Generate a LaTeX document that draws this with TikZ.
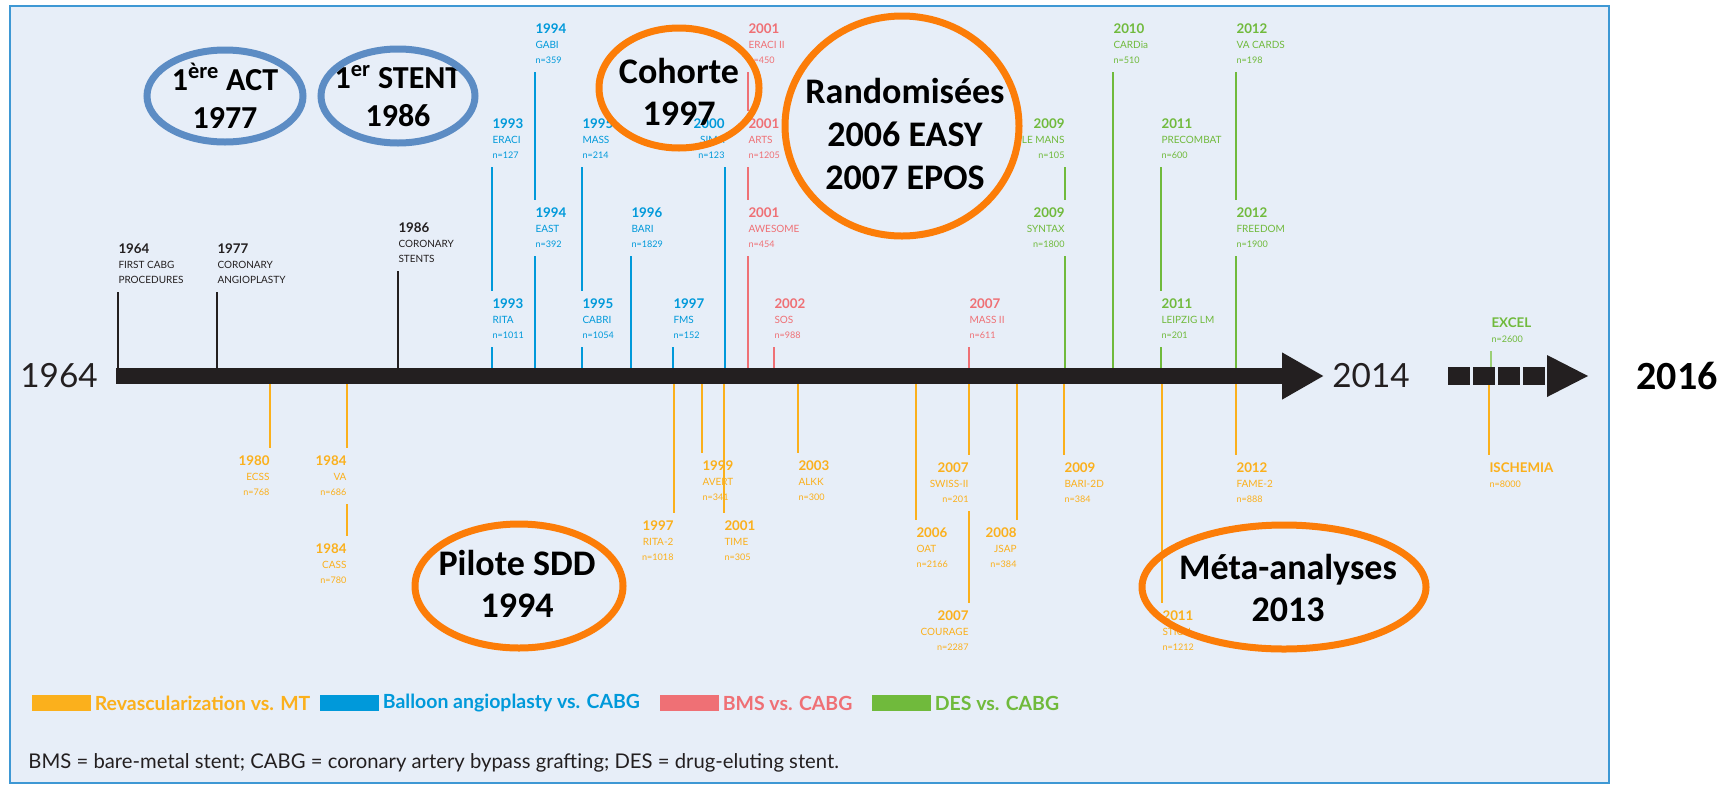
\documentclass[tikz,border=0pt]{standalone}
\usepackage{fontspec}
\setmainfont{Lato}
\newfontfamily\bubblefont{Carlito}
\usetikzlibrary{arrows.meta,positioning}

\definecolor{revasc}{RGB}{251,176,28}
\definecolor{balloon}{RGB}{0,153,218}
\definecolor{bms}{RGB}{239,112,117}
\definecolor{des}{RGB}{112,186,60}
\definecolor{ringorange}{RGB}{252,125,8}
\definecolor{ringblue}{RGB}{92,140,196}
\definecolor{panel}{RGB}{231,238,248}
\definecolor{panelline}{RGB}{62,152,212}
\definecolor{axisc}{RGB}{35,31,32}

\newcommand{\yr}[1]{{\fontsize{10}{11.25}\selectfont\bfseries #1}}
\newcommand{\nn}[1]{{\fontsize{6.8}{11.25}\selectfont n=#1}}

\tikzset{every picture/.style={line width=0.75pt}}
\tikzset{
  trial/.style={text=#1, font=\fontsize{7.5}{11.25}\selectfont, inner sep=0pt},
  lt/.style={trial=#1, anchor=north west, align=left},
  rt/.style={trial=#1, anchor=north east, align=right},
  tickln/.style={draw=#1, line width=2.2pt},
  ring/.style={draw=#1, line width=5.25pt},
  bubble/.style={font=\bubblefont\bfseries\fontsize{27}{31}\selectfont, align=center, inner sep=0pt},
  smallbubble/.style={bubble, font=\bubblefont\bfseries\fontsize{24}{28.5}\selectfont},
  swatch/.style={fill=#1, minimum width=44.25pt, minimum height=12pt, inner sep=0pt},
  keytext/.style={text=#1, font=\bfseries\fontsize{14.6}{16}\selectfont, inner sep=0pt},
}

\begin{document}
\begin{tikzpicture}[x=0.75pt,y=0.75pt,yscale=-1,xscale=1]
\useasboundingbox (0,0) rectangle (1733,786);

%Panel
\draw[draw=panelline, fill=panel, line width=1.5pt] (10,6) rectangle (1609,783);

\coordinate (axis) at (116,376);
\coordinate (axisend) at (1324,376);
\coordinate (ext) at (1448,376);

% Landmarks
\node[lt=axisc] (firstcabg) at (118,243.5) {\yr{1964}\\FIRST CABG\\PROCEDURES};
\node[lt=axisc] (angio) at (217,243.5) {\yr{1977}\\CORONARY\\ANGIOPLASTY};
\node[lt=axisc] (stents) at (398,222.5) {\yr{1986}\\CORONARY\\STENTS};

% Balloon angioplasty vs. CABG
\node[lt=balloon] (gabi) at (535,23.5) {\yr{1994}\\GABI\\\nn{359}};
\node[lt=balloon] (eraci) at (492,118.5) {\yr{1993}\\ERACI\\\nn{127}};
\node[lt=balloon] (mass) at (582,118.5) {\yr{1995}\\MASS\\\nn{214}};
\node[rt=balloon] (sima) at (725,118.5) {\yr{2000}\\SIMA\\\nn{123}};
\node[lt=balloon] (east) at (535,207.5) {\yr{1994}\\EAST\\\nn{392}};
\node[lt=balloon] (bari) at (631,207.5) {\yr{1996}\\BARI\\\nn{1829}};
\node[lt=balloon] (rita) at (492,298.5) {\yr{1993}\\RITA\\\nn{1011}};
\node[lt=balloon] (cabri) at (582,298.5) {\yr{1995}\\CABRI\\\nn{1054}};
\node[lt=balloon] (fms) at (673,298.5) {\yr{1997}\\FMS\\\nn{152}};

% BMS vs. CABG
\node[lt=bms] (eraciii) at (748,23.5) {\yr{2001}\\ERACI II\\\nn{450}};
\node[lt=bms] (arts) at (748,118.5) {\yr{2001}\\ARTS\\\nn{1205}};
\node[lt=bms] (awesome) at (748,207.5) {\yr{2001}\\AWESOME\\\nn{454}};
\node[lt=bms] (sos) at (774,298.5) {\yr{2002}\\SOS\\\nn{988}};
\node[lt=bms] (massii) at (969,298.5) {\yr{2007}\\MASS II\\\nn{611}};

% DES vs. CABG
\node[lt=des] (cardia) at (1113,23.5) {\yr{2010}\\CARDia\\\nn{510}};
\node[lt=des] (vacards) at (1236,23.5) {\yr{2012}\\VA CARDS\\\nn{198}};
\node[rt=des] (lemans) at (1065,118.5) {\yr{2009}\\LE MANS\\\nn{105}};
\node[lt=des] (precombat) at (1161,118.5) {\yr{2011}\\PRECOMBAT\\\nn{600}};
\node[rt=des] (syntax) at (1065,207.5) {\yr{2009}\\SYNTAX\\\nn{1800}};
\node[lt=des] (freedom) at (1236,207.5) {\yr{2012}\\FREEDOM\\\nn{1900}};
\node[lt=des] (leipzig) at (1161,298.5) {\yr{2011}\\LEIPZIG LM\\\nn{201}};
\node[lt=des] (excel) at (1491,317.5) {\yr{EXCEL}\\\nn{2600}};

% Revascularization vs. MT
\node[rt=revasc] (ecss) at (270,455.5) {\yr{1980}\\ECSS\\\nn{768}};
\node[rt=revasc] (va) at (347,455.5) {\yr{1984}\\VA\\\nn{686}};
\node[rt=revasc] (cass) at (347,543.5) {\yr{1984}\\CASS\\\nn{780}};
\node[rt=revasc] (ritaii) at (674,520.5) {\yr{1997}\\RITA-2\\\nn{1018}};
\node[lt=revasc] (avert) at (702,460.5) {\yr{1999}\\AVERT\\\nn{341}};
\node[lt=revasc] (timetrial) at (724,520.5) {\yr{2001}\\TIME\\\nn{305}};
\node[lt=revasc] (alkk) at (798,460.5) {\yr{2003}\\ALKK\\\nn{300}};
\node[lt=revasc] (oat) at (916,527.5) {\yr{2006}\\OAT\\\nn{2166}};
\node[rt=revasc] (swiss) at (969,462.5) {\yr{2007}\\SWISS-II\\\nn{201}};
\node[rt=revasc] (courage) at (969,610.5) {\yr{2007}\\COURAGE\\\nn{2287}};
\node[rt=revasc] (jsap) at (1017,527.5) {\yr{2008}\\JSAP\\\nn{384}};
\node[lt=revasc] (bariiid) at (1064,462.5) {\yr{2009}\\BARI-2D\\\nn{384}};
\node[lt=revasc] (stich) at (1162,610.5) {\yr{2011}\\STICH\\\nn{1212}};
\node[lt=revasc] (fame) at (1236,462.5) {\yr{2012}\\FAME-2\\\nn{888}};
\node[lt=revasc] (ischemia) at (1489,462.5) {\yr{ISCHEMIA}\\\nn{8000}};

% Ticks above
\draw[tickln=axisc, line width=1.6pt, shorten <=6pt] (firstcabg.south west) -- (firstcabg.south west |- axis);
\draw[tickln=axisc, line width=1.6pt, shorten <=6pt] (angio.south west) -- (angio.south west |- axis);
\draw[tickln=axisc, line width=1.6pt, shorten <=6pt] (stents.south west) -- (stents.south west |- axis);
\draw[tickln=balloon, shorten <=6pt, shorten >=6pt] (eraci.south west) -- (rita.north west);
\draw[tickln=balloon, shorten <=6pt] (rita.south west) -- (rita.south west |- axis);
\draw[tickln=balloon, shorten <=6pt, shorten >=6pt] (gabi.south west) -- (east.north west);
\draw[tickln=balloon, shorten <=6pt] (east.south west) -- (east.south west |- axis);
\draw[tickln=balloon, shorten <=6pt, shorten >=6pt] (mass.south west) -- (cabri.north west);
\draw[tickln=balloon, shorten <=6pt] (cabri.south west) -- (cabri.south west |- axis);
\draw[tickln=balloon, shorten <=6pt] (bari.south west) -- (bari.south west |- axis);
\draw[tickln=balloon, shorten <=6pt] (fms.south west) -- (fms.south west |- axis);
\draw[tickln=balloon, shorten <=6pt] (sima.south east) -- (sima.south east |- axis);
\draw[tickln=bms, shorten <=6pt, shorten >=6pt] (eraciii.south west) -- (arts.north west);
\draw[tickln=bms, shorten <=6pt, shorten >=6pt] (arts.south west) -- (awesome.north west);
\draw[tickln=bms, shorten <=6pt] (awesome.south west) -- (awesome.south west |- axis);
\draw[tickln=bms, shorten <=6pt] (sos.south west) -- (sos.south west |- axis);
\draw[tickln=bms, shorten <=6pt] (massii.south west) -- (massii.south west |- axis);
\draw[tickln=des, shorten <=6pt, shorten >=6pt] (lemans.south east) -- (syntax.north east);
\draw[tickln=des, shorten <=6pt] (syntax.south east) -- (syntax.south east |- axis);
\draw[tickln=des, shorten <=6pt] (cardia.south west) -- (cardia.south west |- axis);
\draw[tickln=des, shorten <=6pt, shorten >=6pt] (precombat.south west) -- (leipzig.north west);
\draw[tickln=des, shorten <=6pt] (leipzig.south west) -- (leipzig.south west |- axis);
\draw[tickln=des, shorten <=6pt, shorten >=6pt] (vacards.south west) -- (freedom.north west);
\draw[tickln=des, shorten <=6pt] (freedom.south west) -- (freedom.south west |- axis);
\draw[tickln=des!70, shorten <=6pt] (excel.south west) -- (excel.south west |- ext);

% Ticks below
\draw[tickln=revasc, shorten >=6pt] (ecss.north east |- axis) -- (ecss.north east);
\draw[tickln=revasc, shorten >=6pt] (va.north east |- axis) -- (va.north east);
\draw[tickln=revasc, shorten <=6pt, shorten >=6pt] (va.south east) -- (cass.north east);
\draw[tickln=revasc, shorten >=6pt] (ritaii.north east |- axis) -- (ritaii.north east);
\draw[tickln=revasc, shorten >=6pt] (avert.north west |- axis) -- (avert.north west);
\draw[tickln=revasc, shorten >=6pt] (timetrial.north west |- axis) -- (timetrial.north west);
\draw[tickln=revasc, shorten >=6pt] (alkk.north west |- axis) -- (alkk.north west);
\draw[tickln=revasc, shorten >=6pt] (oat.north west |- axis) -- (oat.north west);
\draw[tickln=revasc, shorten >=6pt] (swiss.north east |- axis) -- (swiss.north east);
\draw[tickln=revasc, shorten <=6pt, shorten >=6pt] (swiss.south east) -- (courage.north east);
\draw[tickln=revasc, shorten >=6pt] (jsap.north east |- axis) -- (jsap.north east);
\draw[tickln=revasc, shorten >=6pt] (bariiid.north west |- axis) -- (bariiid.north west);
\draw[tickln=revasc, shorten >=6pt] (stich.north west |- axis) -- (stich.north west);
\draw[tickln=revasc, shorten >=6pt] (fame.north west |- axis) -- (fame.north west);
\draw[tickln=revasc, shorten >=6pt] (ischemia.north west |- ext) -- (ischemia.north west);

% Time axis
\draw[axisc, line width=12pt, -{Triangle[length=31.5pt,width=33pt]}] (axis) -- (axisend);
\foreach \k in {0,...,3} \fill[axisc] (1448+25*\k,367) rectangle ++(22,18);
\fill[axisc] (1547,355) -- (1588,376) -- (1547,397) -- cycle;

\node[font=\fontsize{25}{28}\selectfont, text=axisc] (startyear) at (59,376) {1964};
\node[font=\fontsize{25}{28}\selectfont, text=axisc] (endyear) at (1371,376) {2014};
\node[font=\bubblefont\bfseries\fontsize{30}{34}\selectfont] (lateryear) at (1677,376) {2016};

% Bubbles
\node[smallbubble] (act) at (225,96) {1\textsuperscript{ère} ACT\\1977};
\draw[ring=ringblue] (act.center) ellipse [x radius=78, y radius=46];
\node[smallbubble] (stent) at (398,96) {1\textsuperscript{er} STENT\\1986};
\draw[ring=ringblue] (stent.center) ellipse [x radius=77, y radius=47];
\node[bubble] (cohorte) at (679,92) {Cohorte\\1997};
\draw[ring=ringorange] (679,88) ellipse [x radius=80, y radius=60];
\node[bubble, font=\bubblefont\bfseries\fontsize{27}{32.5}\selectfont] (random) at (905,134) {Randomisées\\2006 EASY\\2007 EPOS};
\draw[ring=ringorange] (902,126) ellipse [x radius=117, y radius=110];
\node[bubble] (pilote) at (517,584) {Pilote SDD\\1994};
\draw[ring=ringorange] (519,586) ellipse [x radius=104, y radius=62];
\node[bubble] (meta) at (1288,588) {Méta-analyses\\2013};
\draw[ring=ringorange] (1284,587) ellipse [x radius=142, y radius=62];

% Legend
\node[swatch=revasc] (keyrev) at (61,703) {};
\node[keytext=revasc, right=2.5pt of keyrev] (keyrevtxt) {Revascularization vs. MT};
\node[swatch=balloon] (keybal) at (349,703) {};
\node[keytext=balloon, right=2.5pt of keybal] (keybaltxt) {Balloon angioplasty vs. CABG};
\node[swatch=bms] (keybms) at (689,703) {};
\node[keytext=bms, right=2.5pt of keybms] (keybmstxt) {BMS vs. CABG};
\node[swatch=des] (keydes) at (901,703) {};
\node[keytext=des, right=2.5pt of keydes] (keydestxt) {DES vs. CABG};

\node[anchor=west, inner sep=0pt, font=\fontsize{15.2}{18}\selectfont, text=axisc] (footnote) at (28,763) {BMS = bare-metal stent; CABG = coronary artery bypass grafting; DES = drug-eluting stent.};

\end{tikzpicture}
\end{document}
